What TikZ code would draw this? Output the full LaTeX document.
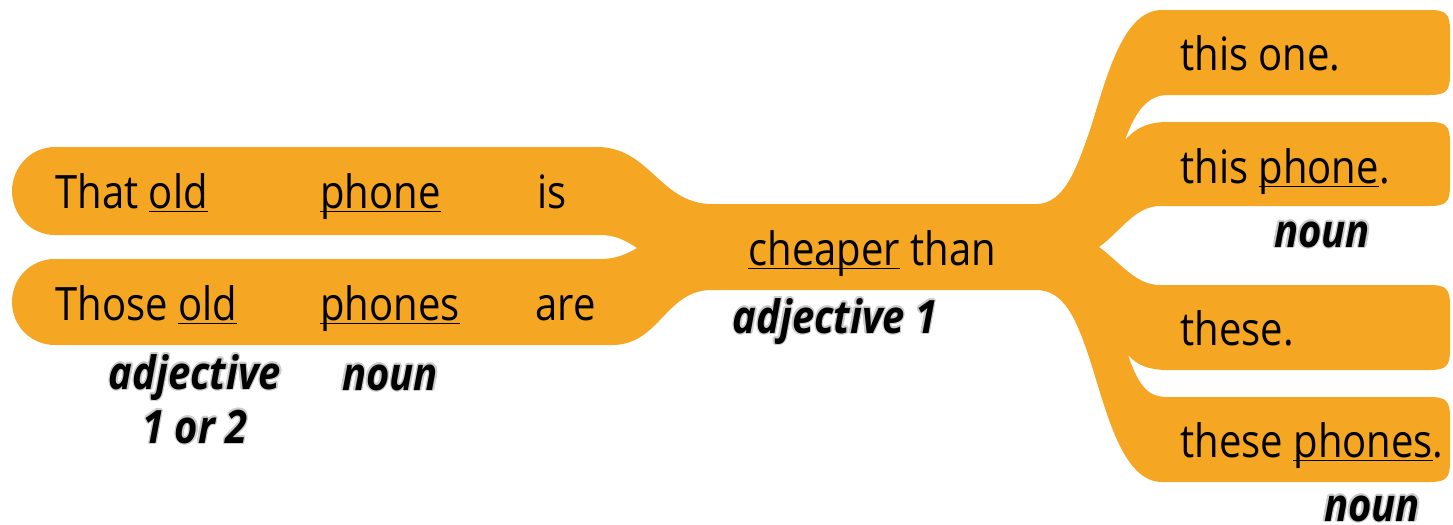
\documentclass[tikz,border=0pt]{standalone}
\usepackage{fontspec}
\setmainfont{Open Sans}[FakeStretch=0.87]
\usepackage[copies]{contour}
\contourlength{0.7pt}
\usepackage{tikz}
\definecolor{bandorange}{RGB}{245,166,35}
\newcommand{\undr}[1]{\setbox0\hbox{#1}\rlap{\rule[-2.2pt]{\wd0}{0.9pt}}\box0\relax}
\newcommand{\glow}[1]{\contour{gray!40}{#1}}
\tikzset{
word/.style={
		anchor=base west,
		inner sep=0pt,
		font=\fontsize{23}{28}\selectfont
	},
tag/.style={
		anchor=base,
		inner sep=0pt,
		align=center,
		font=\fontsize{23}{27}\selectfont\bfseries\itshape
	}
}

\begin{document}
\begin{tikzpicture}[x=0.5pt,y=-0.5pt]
			\useasboundingbox (0,0) rectangle (1453,525);
			% the branching band
			\fill[bandorange] (55,147) -- (597,147)
				.. controls (650,147) and (660,204) .. (712,204) -- (1036,204)
				.. controls (1064,204) and (1076,170) .. (1090,130)
				.. controls (1106,80) and (1122,10) .. (1162,10) -- (1430,10)
				.. controls (1446,10) and (1450,14) .. (1450,30) -- (1450,75)
				.. controls (1450,91) and (1446,95) .. (1430,95) -- (1168,95)
				.. controls (1148,95) and (1136,110) .. (1125,140)
				.. controls (1138,126) and (1150,122) .. (1168,122) -- (1430,122)
				.. controls (1446,122) and (1450,126) .. (1450,142) -- (1450,186)
				.. controls (1450,202) and (1446,206) .. (1430,206) -- (1160,206)
				.. controls (1135,206) and (1120,232) .. (1099,247)
				.. controls (1120,262) and (1135,285) .. (1160,285) -- (1430,285)
				.. controls (1446,285) and (1450,289) .. (1450,305) -- (1450,350)
				.. controls (1450,366) and (1446,370) .. (1430,370) -- (1168,370)
				.. controls (1150,370) and (1138,366) .. (1128,355)
				.. controls (1140,390) and (1150,397) .. (1168,397) -- (1430,397)
				.. controls (1446,397) and (1450,401) .. (1450,417) -- (1450,462)
				.. controls (1450,478) and (1446,482) .. (1430,482) -- (1162,482)
				.. controls (1122,482) and (1106,410) .. (1090,360)
				.. controls (1076,318) and (1064,290) .. (1036,290) -- (712,290)
				.. controls (665,290) and (660,345) .. (612,345) -- (55,345)
				.. controls (31,345) and (12,326) .. (12,302)
				.. controls (12,278) and (31,259) .. (55,259) -- (600,259)
				.. controls (615,259) and (625,255) .. (637,248)
				.. controls (625,240) and (615,235) .. (600,235) -- (55,235)
				.. controls (31,235) and (12,215) .. (12,191)
				.. controls (12,167) and (31,147) .. (55,147) -- cycle;
			% sentences
			\node[word] (that) at (55,208) {That \undr{old}};
			\node[word] (phone) at (320,208) {\undr{phone}};
			\node[word] (is) at (537,208) {is};
			\node[word] (those) at (55,320) {Those \undr{old}};
			\node[word] (phones) at (320,320) {\undr{phones}};
			\node[word] (are) at (535,320) {are};
			\node[word] (cheaper) at (748,265) {\undr{cheaper} than};
			\node[word] (thisone) at (1180,70) {this one.};
			\node[word] (thisphone) at (1180,183) {this \undr{phone}.};
			\node[word] (these) at (1180,345) {these.};
			\node[word] (thesephones) at (1180,457) {these \undr{phones}.};
			% word classes
			\node[tag] (adjA) at (195,443) {\glow{adjective}\\\glow{1 or 2}};
			\node[tag] (nounA) at (390,390) {\glow{noun}};
			\node[tag] (adjB) at (835,333) {\glow{adjective 1}};
			\node[tag] (nounB) at (1322,247) {\glow{noun}};
			\node[tag] (nounC) at (1372,521) {\glow{noun}};
			\end{tikzpicture}
\end{document}
